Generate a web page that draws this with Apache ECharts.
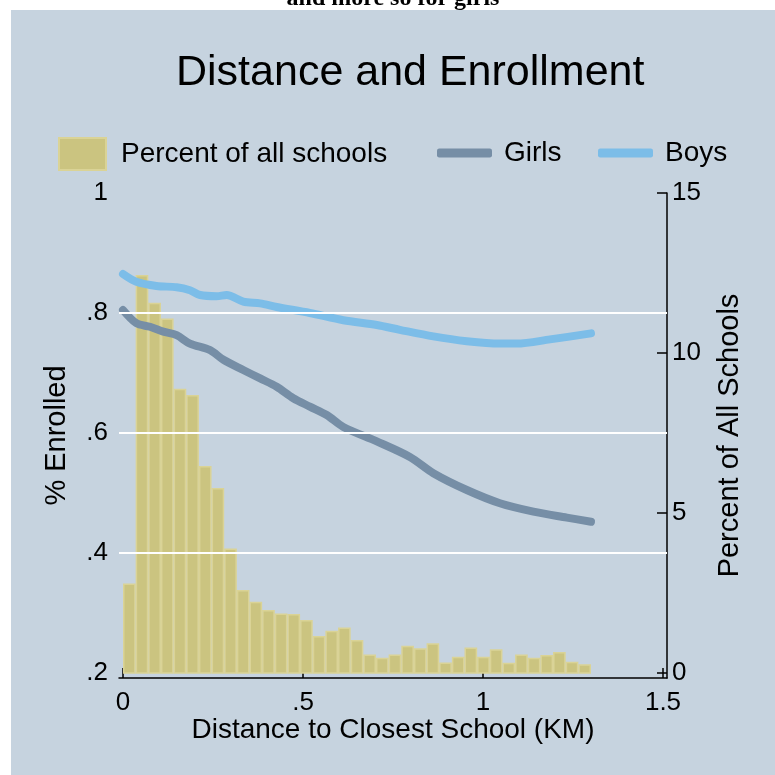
<!DOCTYPE html>
<html>
<head>
<meta charset="utf-8">
<script src="https://cdn.jsdelivr.net/npm/echarts@6/dist/echarts.min.js"></script>
<style>
html,body{margin:0;padding:0;background:#ffffff;}
#chart{width:775px;height:775px;}
</style>
</head>
<body>
<div id="chart"></div>
<script>
// ---- data ----
const binWidth = 1.3 / 37; // km per histogram bin
const pctSchools = [2.80, 12.44, 11.57, 11.08, 8.88, 8.69, 6.47, 5.78, 3.89, 2.59,
  2.23, 1.97, 1.86, 1.84, 1.66, 1.16, 1.32, 1.42, 1.03, 0.58,
  0.48, 0.58, 0.85, 0.77, 0.93, 0.33, 0.51, 0.80, 0.51, 0.74,
  0.32, 0.58, 0.48, 0.56, 0.66, 0.35, 0.27];

const girlsX = [0, 0.037, 0.075, 0.112, 0.149, 0.186, 0.242, 0.279, 0.334, 0.381, 0.427, 0.473,
  0.519, 0.566, 0.612, 0.705, 0.797, 0.862, 0.955, 1.047, 1.14, 1.233, 1.30];
const girlsY = [0.805, 0.783, 0.777, 0.769, 0.763, 0.749, 0.738, 0.722, 0.705, 0.691, 0.677, 0.658,
  0.644, 0.63, 0.61, 0.586, 0.56, 0.533, 0.505, 0.483, 0.469, 0.459, 0.452];

const boysX = [0, 0.037, 0.093, 0.149, 0.186, 0.214, 0.26, 0.288, 0.334, 0.381, 0.427, 0.519,
  0.612, 0.705, 0.769, 0.862, 0.955, 1.047, 1.094, 1.186, 1.30];
const boysY = [0.865, 0.852, 0.845, 0.843, 0.838, 0.83, 0.828, 0.83, 0.819, 0.816, 0.81, 0.80,
  0.788, 0.78, 0.772, 0.761, 0.753, 0.749, 0.749, 0.756, 0.766];

const xTicks = [0, 0.5, 1, 1.5];
const leftTicks = [0.2, 0.4, 0.6, 0.8, 1];
const rightTicks = [0, 5, 10, 15];
const gridValues = [0.4, 0.6, 0.8];

// ---- styles ----
const FONT = "'Liberation Sans', Arial, Helvetica, sans-serif";
const BG = '#c6d3df';
const BAR_FILL = '#cbc480';
const BAR_EDGE = '#dad396';
const GIRLS = '#768ea6';
const BOYS = '#7cbde8';
const stripZero = v => String(v).replace(/^0\./, '.');

const chart = echarts.init(document.getElementById('chart'), null, {renderer: 'canvas'});

const histData = pctSchools.map((v, i) => [i * binWidth, (i + 1) * binWidth, v]);
const girlsData = girlsX.map((x, i) => [x, girlsY[i]]);
const boysData = boysX.map((x, i) => [x, boysY[i]]);

const option = {
  animation: false,
  backgroundColor: '#ffffff',
  textStyle: {fontFamily: FONT},
  graphic: [
    {type: 'rect', left: 11, top: 10, z: -10, shape: {width: 764, height: 765}, style: {fill: BG}},
    {type: 'text', x: 393, y: -1, z: 100, style: {text: 'and more so for girls', fill: '#000',
      font: "bold 24px 'Liberation Serif', 'DejaVu Serif', serif", align: 'center', verticalAlign: 'middle'}}
  ],
  title: {
    text: 'Distance and Enrollment',
    left: 176, top: 52,
    padding: 0,
    textStyle: {fontFamily: FONT, fontSize: 43, fontWeight: 'normal', color: '#000'}
  },
  legend: [
    {data: [{name: 'Percent of all schools', icon: 'rect'}], left: 58, top: 137, padding: 0,
      itemWidth: 47, itemHeight: 32, selectedMode: false,
      textStyle: {fontFamily: FONT, fontSize: 28, color: '#000', padding: [0, 0, 0, 10]}},
    {data: [{name: 'Girls', icon: 'roundRect'}], left: 437, top: 139, padding: 0,
      itemWidth: 55, itemHeight: 9, selectedMode: false,
      textStyle: {fontFamily: FONT, fontSize: 28, color: '#000', padding: [0, 0, 0, 7]}},
    {data: [{name: 'Boys', icon: 'roundRect'}], left: 598, top: 139, padding: 0,
      itemWidth: 55, itemHeight: 9, selectedMode: false,
      textStyle: {fontFamily: FONT, fontSize: 28, color: '#000', padding: [0, 0, 0, 7]}}
  ],
  grid: {left: 119, right: 108, top: 193, bottom: 97, containLabel: false},
  xAxis: {
    type: 'value', min: -4 / 360, max: 1.5 + 4 / 360,
    name: 'Distance to Closest School (KM)', nameLocation: 'middle', nameGap: 38,
    nameMoveOverlap: false,
    nameTextStyle: {fontFamily: FONT, fontSize: 28, color: '#000'},
    axisLine: {show: true, onZero: false, lineStyle: {color: '#000', width: 1.5}},
    axisTick: {show: true, inside: true, length: 10, customValues: xTicks, lineStyle: {color: '#000', width: 1.5}},
    axisLabel: {customValues: xTicks, formatter: stripZero, fontFamily: FONT, fontSize: 26, color: '#000', margin: 12},
    splitLine: {show: false}
  },
  yAxis: [
    {
      type: 'value', position: 'left', min: 0.2 - 5 / 600, max: 1,
      name: '% Enrolled', nameLocation: 'middle', nameGap: 48,
      nameTextStyle: {fontFamily: FONT, fontSize: 29, color: '#000'},
      axisLine: {show: false},
      axisTick: {show: false, customValues: leftTicks},
      axisLabel: {customValues: leftTicks, formatter: stripZero, fontFamily: FONT, fontSize: 26, color: '#000', margin: 11},
      splitLine: {show: false}
    },
    {
      type: 'value', position: 'right', min: -5 / 32, max: 15,
      name: 'Percent of All Schools', nameLocation: 'middle', nameGap: 48,
      nameTextStyle: {fontFamily: FONT, fontSize: 29, color: '#000'},
      axisLine: {show: true, onZero: false, lineStyle: {color: '#000', width: 1.5}},
      axisTick: {show: true, inside: true, length: 10, customValues: rightTicks, lineStyle: {color: '#000', width: 1.5}},
      axisLabel: {customValues: rightTicks, fontFamily: FONT, fontSize: 26, color: '#000', margin: 5},
      splitLine: {show: false}
    }
  ],
  series: [
    {
      name: 'grid', type: 'line', data: [], yAxisIndex: 0, z: 1, silent: true,
      markLine: {
        silent: true, symbol: ['none', 'none'], label: {show: false},
        lineStyle: {color: '#ffffff', width: 2, type: 'solid'},
        data: gridValues.map(v => ({yAxis: v}))
      }
    },
    {
      name: 'Percent of all schools', type: 'custom', yAxisIndex: 1, z: 2,
      itemStyle: {color: BAR_FILL, borderColor: BAR_EDGE, borderWidth: 2},
      encode: {x: [0, 1], y: 2},
      data: histData,
      renderItem: function (params, api) {
        const p0 = api.coord([api.value(0), api.value(2)]);
        const p1 = api.coord([api.value(1), 0]);
        return {
          type: 'rect',
          shape: {x: p0[0] + 0.75, y: p0[1] + 0.75, width: p1[0] - p0[0] - 1.5, height: p1[1] - p0[1] - 0.75},
          style: {fill: BAR_FILL, stroke: BAR_EDGE, lineWidth: 1.5}
        };
      }
    },
    {
      name: 'Girls', type: 'line', yAxisIndex: 0, z: 3, data: girlsData,
      showSymbol: false, symbol: 'none', smooth: 0.3,
      itemStyle: {color: GIRLS},
      lineStyle: {color: GIRLS, width: 8, cap: 'round', join: 'round'}
    },
    {
      name: 'Boys', type: 'line', yAxisIndex: 0, z: 4, data: boysData,
      showSymbol: false, symbol: 'none', smooth: 0.3,
      itemStyle: {color: BOYS},
      lineStyle: {color: BOYS, width: 8, cap: 'round', join: 'round'}
    }
  ]
};
chart.setOption(option);
</script>
</body>
</html>
